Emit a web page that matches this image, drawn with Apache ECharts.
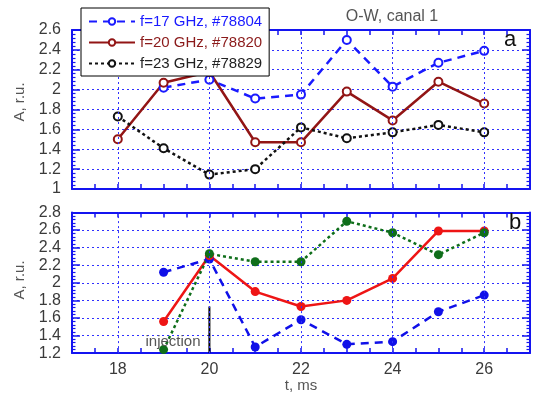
<!DOCTYPE html>
<html>
<head>
<meta charset="utf-8">
<script src="https://cdn.jsdelivr.net/npm/echarts@6/dist/echarts.min.js"></script>
<style>html,body{margin:0;padding:0;background:#fff}#c{width:533px;height:394px}</style>
</head>
<body>
<div id="c"></div>
<script>
// ---- data ----
const timesA = [18, 19, 20, 21, 22, 23, 24, 25, 26];
const a17 = [null, 2.02, 2.10, 1.91, 1.95, 2.50, 2.03, 2.27, 2.39];
const a20 = [1.50, 2.07, 2.18, 1.47, 1.47, 1.98, 1.69, 2.08, 1.86];
const a23 = [1.73, 1.41, 1.145, 1.20, 1.62, 1.51, 1.57, 1.645, 1.57];

const timesB = [19, 20, 21, 22, 23, 24, 25, 26];
const b17 = [2.12, 2.27, 1.27, 1.58, 1.30, 1.33, 1.67, 1.86];
const b20 = [1.56, 2.31, 1.90, 1.73, 1.80, 2.05, 2.59, 2.59];
const b23 = [1.24, 2.33, 2.24, 2.24, 2.70, 2.57, 2.32, 2.57];

const injectionT = [20, 20];
const injectionA = [1.2, 1.73];

const seriesNames = ['f=17 GHz, #78804', 'f=20 GHz, #78820', 'f=23 GHz, #78829'];
const xGridLines = [18, 20, 22, 24, 26];
const xTickLabels = [18, 20, 22, 24, 26];

// ---- styles ----
const FRAME = '#1414f0';
const GRIDC = '#3030ff';
const FONT = 'Liberation Sans, Arial, sans-serif';

function pairs(xs, ys) { return xs.map((x, i) => [x, ys[i]]); }

function xAxisDef(gridIndex, pos, labels) {
  return {
    type: 'value', gridIndex, position: pos, min: 17, max: 27, interval: 0.5,
    axisLine: { show: true, onZero: false, lineStyle: { color: FRAME, width: 2 } },
    axisTick: { show: true, inside: true, length: 5, lineStyle: { color: FRAME, width: 1.5 } },
    splitLine: { show: false },
    axisLabel: labels ? {
      show: true, color: '#3a3a3a', fontSize: 16, fontFamily: FONT, margin: 8,
      formatter: v => (xTickLabels.indexOf(v) >= 0 ? String(v) : '')
    } : { show: false },
    name: labels ? 't, ms' : '', nameLocation: 'middle', nameGap: 22,
    nameTextStyle: { color: '#555', fontSize: 15, fontFamily: FONT }
  };
}
function yAxisDef(gridIndex, pos, min, max, labels) {
  return {
    type: 'value', gridIndex, position: pos, min, max, interval: 0.2,
    axisLine: { show: true, onZero: false, lineStyle: { color: FRAME, width: 2 } },
    axisTick: { show: true, inside: true, length: 8, lineStyle: { color: FRAME, width: 1.5 } },
    minorTick: { show: true, splitNumber: 5, length: 3.5, lineStyle: { color: FRAME, width: 1.2 } },
    splitLine: { show: labels, lineStyle: { color: GRIDC, width: 1, type: [2, 3] } },
    axisLabel: labels ? { show: true, color: '#3a3a3a', fontSize: 16, fontFamily: FONT, margin: 11,
      formatter: v => String(Math.round(v * 10) / 10) } : { show: false }
  };
}
const vGrid = {
  silent: true, symbol: ['none', 'none'], label: { show: false },
  lineStyle: { color: GRIDC, width: 1, type: [2, 3] },
  data: xGridLines.map(v => ({ xAxis: v }))
};

const option = {
  animation: false,
  backgroundColor: '#fff',
  grid: [
    { left: 72, right: 3, top: 30, height: 159 },
    { left: 72, right: 3, top: 212.5, height: 150 }
  ],
  xAxis: [xAxisDef(0, 'bottom', false), xAxisDef(0, 'top', false), xAxisDef(1, 'bottom', true), xAxisDef(1, 'top', false)],
  yAxis: [yAxisDef(0, 'left', 1, 2.6, true), yAxisDef(0, 'right', 1, 2.6, false), yAxisDef(1, 'left', 1.2, 2.8, true), yAxisDef(1, 'right', 1.2, 2.8, false)],
  legend: {
    orient: 'vertical', left: 81, top: 8, padding: [6, 7, 5, 7], z: 50, zlevel: 1,
    backgroundColor: '#fff', borderColor: '#000', borderWidth: 1, borderRadius: 0,
    itemWidth: 46, itemHeight: 8, itemGap: 6,
    textStyle: { fontSize: 15, fontFamily: FONT },
    data: [
      { name: seriesNames[0], textStyle: { color: '#1a1aff' } },
      { name: seriesNames[1], textStyle: { color: '#8b1a1a' } },
      { name: seriesNames[2], textStyle: { color: '#222' } }
    ]
  },
  graphic: [
    { type: 'text', z: 100, style: { text: 'O-W, canal 1', x: 392, y: 17, textAlign: 'center', textVerticalAlign: 'middle', font: '16px ' + FONT, fill: '#555' } },
    { type: 'text', z: 100, style: { text: 'a', x: 510, y: 40, textAlign: 'center', textVerticalAlign: 'middle', font: '22px ' + FONT, fill: '#111' } },
    { type: 'text', z: 100, style: { text: 'b', x: 515, y: 223, textAlign: 'center', textVerticalAlign: 'middle', font: '22px ' + FONT, fill: '#111' } },
    { type: 'text', z: 100, style: { text: 'injection', x: 173, y: 342, textAlign: 'center', textVerticalAlign: 'middle', font: '15px ' + FONT, fill: '#555' } },
    { type: 'text', z: 100, x: 20, y: 102, rotation: Math.PI / 2, style: { text: 'A, r.u.', x: 0, y: 0, textAlign: 'center', textVerticalAlign: 'middle', font: '15px ' + FONT, fill: '#555' } },
    { type: 'text', z: 100, x: 20, y: 280, rotation: Math.PI / 2, style: { text: 'A, r.u.', x: 0, y: 0, textAlign: 'center', textVerticalAlign: 'middle', font: '15px ' + FONT, fill: '#555' } }
  ],
  series: [
    { name: 'gridA', type: 'line', xAxisIndex: 0, yAxisIndex: 0, data: [], markLine: vGrid, z: 1 },
    { name: 'gridB', type: 'line', xAxisIndex: 2, yAxisIndex: 2, data: [], markLine: vGrid, z: 1 },
    { name: seriesNames[0], type: 'line', xAxisIndex: 0, yAxisIndex: 0, data: pairs(timesA, a17),
      symbol: 'emptyCircle', symbolSize: 8, color: '#1a1aff',
      lineStyle: { width: 2.5, type: [8, 6] }, itemStyle: { borderWidth: 1.5 } },
    { name: seriesNames[1], type: 'line', xAxisIndex: 0, yAxisIndex: 0, data: pairs(timesA, a20),
      symbol: 'emptyCircle', symbolSize: 8, color: '#921515',
      lineStyle: { width: 2.5 }, itemStyle: { borderWidth: 1.5 } },
    { name: seriesNames[2], type: 'line', xAxisIndex: 0, yAxisIndex: 0, data: pairs(timesA, a23),
      symbol: 'emptyCircle', symbolSize: 8, color: '#111',
      lineStyle: { width: 2.5, type: [3, 3] }, itemStyle: { borderWidth: 1.5 } },
    { name: 'b17', type: 'line', xAxisIndex: 2, yAxisIndex: 2, data: pairs(timesB, b17),
      symbol: 'circle', symbolSize: 9, color: '#1010e8',
      lineStyle: { width: 2.5, type: [8, 6] } },
    { name: 'b20', type: 'line', xAxisIndex: 2, yAxisIndex: 2, data: pairs(timesB, b20),
      symbol: 'circle', symbolSize: 9, color: '#ee1515',
      lineStyle: { width: 2.5 } },
    { name: 'b23', type: 'line', xAxisIndex: 2, yAxisIndex: 2, data: pairs(timesB, b23),
      symbol: 'circle', symbolSize: 9, color: '#0f6e1a',
      lineStyle: { width: 2.5, type: [3, 3] } },
    { name: 'injection', type: 'line', xAxisIndex: 2, yAxisIndex: 2, data: pairs(injectionT, injectionA),
      symbol: 'none', color: '#000', lineStyle: { width: 2 }, z: 1 }
  ]
};
echarts.init(document.getElementById('c')).setOption(option);
</script>
</body>
</html>
